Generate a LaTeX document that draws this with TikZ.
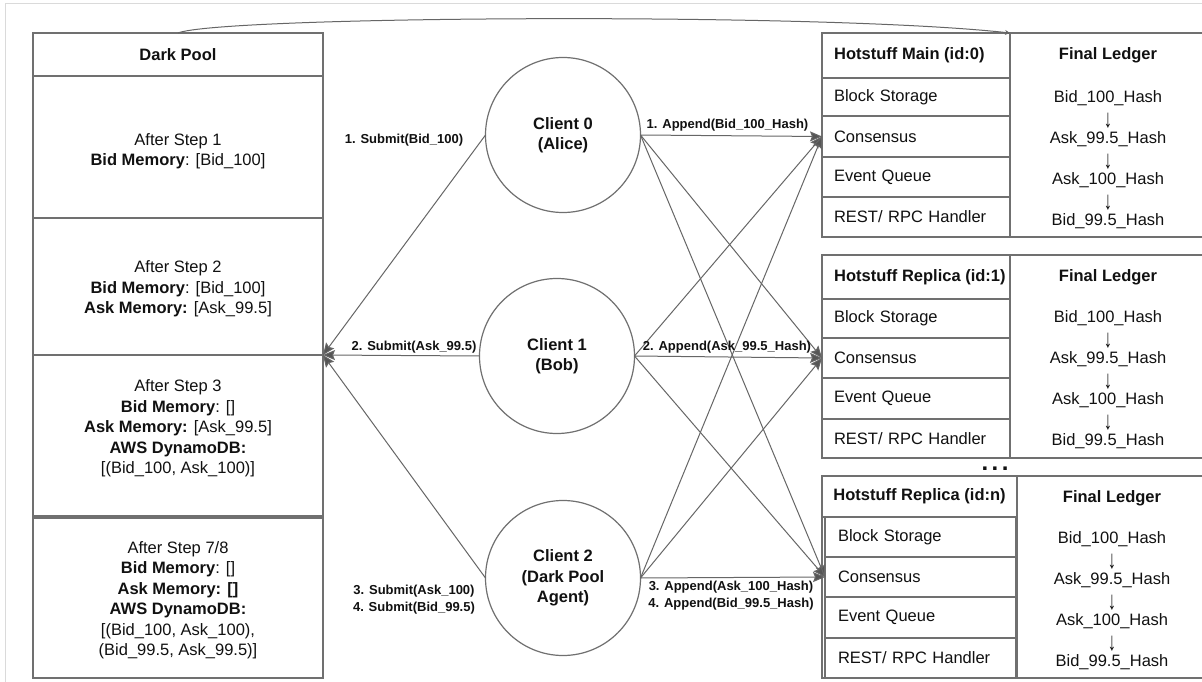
\documentclass[tikz,border=0pt]{standalone}
\usepackage{fontspec}
\setmainfont{Liberation Sans}
\usetikzlibrary{arrows.meta}
\definecolor{boxc}{HTML}{707070}
\definecolor{linec}{HTML}{666666}
\definecolor{headc}{HTML}{555555}
\definecolor{txtc}{HTML}{111111}
\definecolor{framec}{HTML}{DADADA}
\newcommand\fsbig{\fontsize{16.5}{20.5}\selectfont}
\newcommand\fslbl{\fontsize{13}{16.5}\selectfont}
\newcommand\dnarrow{\smash{\raisebox{-4.5pt}{\scalebox{1}[1.55]{↓}}}}
\tikzset{
  box/.style={draw=boxc, line width=1.2pt, rectangle, inner sep=0pt, outer sep=0pt},
  txt/.style={font=\fsbig, align=center, text=txtc, inner sep=0pt},
  txtb/.style={txt, font=\fsbig\bfseries},
  hdrtxt/.style={font=\fsbig\bfseries, text=txtc, inner sep=0pt, anchor=west},
  lbl/.style={font=\fslbl\bfseries, align=center, text=txtc, inner sep=0pt},
  rowbox/.style={box, font=\fsbig, text=txtc, align=left, inner xsep=12pt, text width=164pt, minimum width=188pt},
  rowboxn/.style={box, font=\fsbig, text=txtc, align=left, inner xsep=13pt, text width=165pt, minimum width=191pt},
  client/.style={circle, draw=boxc, line width=1.2pt, minimum size=155pt, inner sep=0pt, outer sep=0pt, font=\fsbig\bfseries, align=center, text=txtc},
  conn/.style={draw=linec, line width=1pt, -{Stealth[length=12pt,width=10pt,inset=2pt,fill=headc]}},
  toparc/.style={draw=linec, line width=1pt, -{Stealth[length=5pt,width=5pt,fill=black]}}
}
\begin{document}
\begin{tikzpicture}[x=1pt,y=-1pt]
\useasboundingbox (0,0) rectangle (1202,682);
\clip (0,0) rectangle (1202,682);
\fill[white] (0,0) rectangle (1202,682);
\draw[framec, line width=1pt] (5,682) -- (5,4) -- (1202,4);

% Dark Pool
\node[box, minimum width=290pt, minimum height=43pt, font=\fsbig\bfseries, text=txtc] (dph) at (178,54.5) {Dark Pool};
\node[box, minimum width=290pt, minimum height=142pt] (dp1) at (178,147) {};
\node[txt] (t1) at (178,151) {After Step 1\\\textbf{Bid Memory}: {[}Bid\_100{]}};
\node[box, minimum width=290pt, minimum height=137pt] (dp2) at (178,286.5) {};
\node[txt] (t2) at (178,289) {After Step 2\\\textbf{Bid Memory}: {[}Bid\_100{]}\\\textbf{Ask Memory:} {[}Ask\_99.5{]}};
\node[box, minimum width=290pt, minimum height=161pt] (dp3) at (178,435.5) {};
\node[txt] (t3) at (178,428.5) {After Step 3\\\textbf{Bid Memory}: {[}{]}\\\textbf{Ask Memory:} {[}Ask\_99.5{]}\\\textbf{AWS DynamoDB:}\\{[}(Bid\_100, Ask\_100){]}};
\node[box, minimum width=290pt, minimum height=160pt] (dp4) at (178,598) {};
\node[txt] (t4) at (178,600) {After Step 7/8\\\textbf{Bid Memory}: {[}{]}\\\textbf{Ask Memory: {[}{]}}\\\textbf{AWS DynamoDB:}\\{[}(Bid\_100, Ask\_100),\\(Bid\_99.5, Ask\_99.5){]}};

% Clients
\node[client] (c0) at (563,135) {Client 0\\(Alice)};
\node[client] (c1) at (557,356) {Client 1\\(Bob)};
\node[client] (c2) at (563,578) {Client 2\\(Dark Pool\\Agent)};

% Hotstuff Main
\node[box, minimum width=188pt, minimum height=45pt] (h0h) at (916,55.5) {};
\node[hdrtxt] (h0ht) at (834,55.5) {Hotstuff Main (id:0)};
\node[rowbox, minimum height=38pt] (h0bs) at (916,97) {Block Storage};
\node[rowbox, minimum height=41pt] (h0cs) at (916,136.5) {Consensus};
\node[rowbox, minimum height=40pt] (h0eq) at (916,177) {Event Queue};
\node[rowbox, minimum height=40pt] (h0rr) at (916,217) {REST/ RPC Handler};
\node[box, minimum width=196pt, minimum height=204pt] (l0) at (1108,135) {};
\node[txtb] (l0h) at (1108,55.5) {Final Ledger};
\node[txt] (l0t) at (1108,159.5) {Bid\_100\_Hash\\\dnarrow\\Ask\_99.5\_Hash\\\dnarrow\\Ask\_100\_Hash\\\dnarrow\\Bid\_99.5\_Hash};

% Hotstuff Replica 1
\node[box, minimum width=188pt, minimum height=44pt] (h1h) at (916,277) {};
\node[hdrtxt] (h1ht) at (834,277) {Hotstuff Replica (id:1)};
\node[rowbox, minimum height=39pt] (h1bs) at (916,318.5) {Block Storage};
\node[rowbox, minimum height=40pt] (h1cs) at (916,358) {Consensus};
\node[rowbox, minimum height=41pt] (h1eq) at (916,398.5) {Event Queue};
\node[rowbox, minimum height=39pt] (h1rr) at (916,438.5) {REST/ RPC Handler};
\node[box, minimum width=196pt, minimum height=203pt] (l1) at (1108,356.5) {};
\node[txtb] (l1h) at (1108,277) {Final Ledger};
\node[txt] (l1t) at (1108,380) {Bid\_100\_Hash\\\dnarrow\\Ask\_99.5\_Hash\\\dnarrow\\Ask\_100\_Hash\\\dnarrow\\Bid\_99.5\_Hash};

\node[font=\fontsize{24}{24}\selectfont\bfseries, text=txtc, inner sep=0pt] (dots) at (995,469) {.\kern3.5pt.\kern3.5pt.};

% Hotstuff Replica n
\node[box, minimum width=195pt, minimum height=202pt] (hnb) at (919.5,577) {};
\node[box, minimum width=195pt, minimum height=41pt, font=\fsbig\bfseries, text=txtc] (hnh) at (919.5,496.5) {Hotstuff Replica (id:n)};
\node[rowboxn, minimum height=40pt] (hnbs) at (920.5,537) {Block Storage};
\node[rowboxn, minimum height=40pt] (hncs) at (920.5,577) {Consensus};
\node[rowboxn, minimum height=41pt] (hneq) at (920.5,617.5) {Event Queue};
\node[rowboxn, minimum height=40pt] (hnrr) at (920.5,658) {REST/ RPC Handler};
\node[box, minimum width=190pt, minimum height=202pt] (ln) at (1112,577) {};
\node[txtb] (lnh) at (1112,498) {Final Ledger};
\node[txt] (lnt) at (1112,601) {Bid\_100\_Hash\\\dnarrow\\Ask\_99.5\_Hash\\\dnarrow\\Ask\_100\_Hash\\\dnarrow\\Bid\_99.5\_Hash};

% top arc
\draw[toparc] (dph.north) .. controls (220,16) and (820,12) .. (l0.north west);

% submit connectors
\draw[conn] (c0.west) -- (dp2.south east);
\draw[conn] (c1.west) -- (dp2.south east);
\draw[conn] (c2.west) -- (dp2.south east);

% append connectors
\foreach \s in {c0,c1,c2}{
  \foreach \t in {h0cs,h1cs,hncs}{
    \draw[conn] (\s.east) -- (\t.west);
  }
}

% labels
\node[lbl] (ls1) at (404,140) {1. Submit(Bid\_100)};
\node[lbl] (ls2) at (414,347) {2. Submit(Ask\_99.5)};
\node[lbl] (ls34) at (414,599.5) {3. Submit(Ask\_100)\\4. Submit(Bid\_99.5)};
\node[lbl] (la1) at (727.5,125) {1. Append(Bid\_100\_Hash)};
\node[lbl] (la2) at (727,347) {2. Append(Ask\_99.5\_Hash)};
\node[lbl] (la34) at (731,595.5) {3. Append(Ask\_100\_Hash)\\4. Append(Bid\_99.5\_Hash)};
\end{tikzpicture}
\end{document}
